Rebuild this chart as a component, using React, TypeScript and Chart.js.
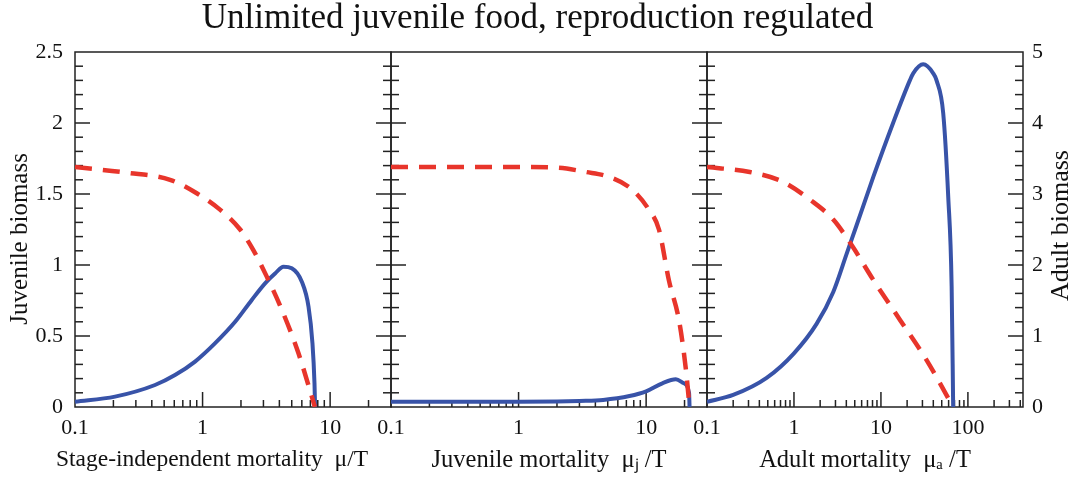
import React, { useEffect, useRef } from 'react';
import { Chart, registerables } from 'chart.js';

Chart.register(...registerables);

const FONT = "'Liberation Serif', 'Times New Roman', Times, serif";
const BLUE = '#3853a8';
const RED = '#e8352b';
const INK = '#111111';

const TITLE = 'Unlimited juvenile food, reproduction regulated';
const Y_LEFT_TITLE = 'Juvenile biomass   ';
const Y_RIGHT_TITLE = 'Adult biomass';
const X_TITLES = [
  'Stage-independent mortality  μ/T',
  'Juvenile mortality  μⱼ /T',
  'Adult mortality  μₐ /T',
];
const X_MIN = [0.1, 0.1, 0.1];
const X_MAX = [30, 30, 430];
const X_TICKS = [
  [0.1, 1, 10],
  [0.1, 1, 10],
  [0.1, 1, 10, 100],
];

// Panel 1: stage-independent mortality
const p1X_juv = [0.1, 0.206, 0.424, 0.608, 0.873, 1.25, 1.8, 2.43, 3.09, 3.7, 4.31, 5.0, 6.0, 6.77, 7.27, 7.54, 7.62];
const p1Y_juv = [0.037, 0.073, 0.155, 0.225, 0.32, 0.448, 0.6, 0.754, 0.871, 0.94, 0.988, 0.977, 0.882, 0.706, 0.448, 0.167, 0];
const p1X_adu = [0.1, 0.254, 0.556, 0.9, 1.37, 1.97, 2.5, 3.18, 4.18, 5.64, 7.6];
const p1Y_adu = [3.38, 3.3, 3.2, 3.01, 2.78, 2.5, 2.21, 1.84, 1.37, 0.76, 0];

// Panel 2: juvenile mortality
const p2X_juv = [0.1, 1, 2, 3, 4.6, 7.4, 10, 13.4, 17.1, 19.8, 21.7, 21.9];
const p2Y_juv = [0.037, 0.037, 0.039, 0.043, 0.05, 0.077, 0.11, 0.167, 0.195, 0.167, 0.1, 0];
const p2X_adu = [0.1, 1, 2, 3.38, 5.14, 7.8, 10.5, 12.6, 15.1, 18.1, 20.4, 21.9];
const p2Y_adu = [3.38, 3.38, 3.37, 3.31, 3.24, 3.06, 2.78, 2.5, 1.78, 1.22, 0.56, 0];

// Panel 3: adult mortality
const p3X_juv = [0.1, 0.2, 0.485, 1, 1.82, 2.83, 4.04, 5.25, 8.17, 13.8, 21.5, 23.5, 30.6, 39.9, 43.6, 52, 59.4, 65, 67.7];
const p3Y_juv = [0.037, 0.085, 0.205, 0.378, 0.585, 0.81, 1.08, 1.28, 1.62, 2.0, 2.3, 2.35, 2.413, 2.35, 2.3, 2.07, 1.48, 0.85, 0];
const p3X_adu = [0.1, 0.31, 0.75, 1.53, 2.83, 4.6, 8.17, 16.5, 33.5, 67.7];
const p3Y_adu = [3.38, 3.31, 3.17, 2.92, 2.64, 2.28, 1.79, 1.23, 0.66, 0];

const pts = (xs: number[], ys: number[]) => xs.map((x, i) => ({ x, y: ys[i] }));

const PANEL_IDS = ['x1', 'x2', 'x3'];

const framePlugin = {
  id: 'panelFrames',
  beforeDatasetsDraw(chart: any) {
    const { ctx, chartArea } = chart;
    const yL = chart.scales.y;
    const T = chartArea.top;
    const B = chartArea.bottom;
    const seg = (x1: number, y1: number, x2: number, y2: number) => {
      ctx.beginPath();
      ctx.moveTo(x1, y1);
      ctx.lineTo(x2, y2);
      ctx.stroke();
    };
    ctx.save();
    ctx.strokeStyle = '#222222';
    ctx.lineWidth = 1.5;
    PANEL_IDS.forEach((id) => {
      const s = chart.scales[id];
      const L = s.left;
      const R = s.right;
      ctx.strokeRect(L, T, R - L, B - T);
      for (let k = 1; k < 25; k++) {
        const py = yL.getPixelForValue(k / 10);
        const len = k % 5 === 0 ? 15 : 8;
        seg(L, py, L + len, py);
        seg(R, py, R - len, py);
      }
      for (let e = -1; e <= 3; e++) {
        for (let m = 1; m <= 9; m++) {
          const v = m * Math.pow(10, e);
          if (v <= s.min * 1.001 || v >= s.max * 0.999) continue;
          const px = s.getPixelForValue(v);
          const len = m === 1 ? 15 : 7;
          seg(px, B, px, B - len);
        }
      }
    });
    ctx.restore();
  },
  afterDraw(chart: any) {
    const { ctx, chartArea } = chart;
    const s = chart.scales.y2;
    ctx.save();
    ctx.translate(s.right - 14, (chartArea.top + chartArea.bottom) / 2 - 4);
    ctx.rotate(-Math.PI / 2);
    ctx.font = `26px ${FONT}`;
    ctx.fillStyle = INK;
    ctx.textAlign = 'center';
    ctx.textBaseline = 'middle';
    ctx.fillText(Y_RIGHT_TITLE, 0, 0);
    ctx.restore();

    // first panel's axis title sits a little left of the panel centre
    const x1 = chart.scales.x1;
    ctx.save();
    ctx.font = `23.5px ${FONT}`;
    ctx.fillStyle = INK;
    ctx.textAlign = 'center';
    ctx.textBaseline = 'middle';
    ctx.fillText(X_TITLES[0], (x1.left + x1.right) / 2 - 21, x1.bottom - 14.7 - 6);
    ctx.restore();
  },
};

function xScale(i: number) {
  return {
    type: 'logarithmic',
    position: 'bottom',
    stack: 'panels',
    stackWeight: 1,
    min: X_MIN[i],
    max: X_MAX[i],
    grid: { display: false, drawTicks: false },
    border: { display: false },
    afterBuildTicks(s: any) {
      s.ticks = X_TICKS[i].map((v) => ({ value: v }));
    },
    ticks: {
      autoSkip: false,
      maxRotation: 0,
      minRotation: 0,
      padding: 8,
      color: INK,
      font: { family: FONT, size: 22 },
      callback: (v: any) => String(v),
    },
    title: {
      display: i !== 0,
      text: X_TITLES[i],
      color: INK,
      font: { family: FONT, size: 24.5 },
      padding: { top: 0, bottom: 6 },
    },
    afterFit(s: any) {
      s.height = 74;
    },
  };
}

function lineSet(data: any[], xId: string, yId: string, color: string, dashed: boolean) {
  return {
    type: 'line',
    data,
    xAxisID: xId,
    yAxisID: yId,
    borderColor: color,
    backgroundColor: color,
    borderWidth: dashed ? 4.5 : 4,
    borderDash: dashed ? [17, 11] : [],
    pointRadius: 0,
    fill: false,
    cubicInterpolationMode: 'monotone',
    order: dashed ? 0 : 1,
  };
}

export default function App() {
  const ref = useRef<HTMLCanvasElement | null>(null);

  useEffect(() => {
    if (!ref.current) return;
    const chart = new Chart(ref.current, {
      type: 'line',
      data: {
        datasets: [
          lineSet(pts(p1X_adu, p1Y_adu), 'x1', 'y2', RED, true),
          lineSet(pts(p2X_adu, p2Y_adu), 'x2', 'y2', RED, true),
          lineSet(pts(p3X_adu, p3Y_adu), 'x3', 'y2', RED, true),
          lineSet(pts(p1X_juv, p1Y_juv), 'x1', 'y', BLUE, false),
          lineSet(pts(p2X_juv, p2Y_juv), 'x2', 'y', BLUE, false),
          lineSet(pts(p3X_juv, p3Y_juv), 'x3', 'y', BLUE, false),
        ] as any,
      },
      options: {
        responsive: false,
        animation: false,
        layout: { padding: 0 },
        plugins: {
          legend: { display: false },
          tooltip: { enabled: false },
          title: {
            display: true,
            text: TITLE,
            color: INK,
            font: { family: FONT, size: 35, weight: 'normal', lineHeight: 1.0 },
            padding: { top: 1, bottom: 16 },
          },
        },
        scales: {
          x1: xScale(0),
          x2: xScale(1),
          x3: xScale(2),
          y: {
            type: 'linear',
            position: 'left',
            min: 0,
            max: 2.5,
            grid: { display: false, drawTicks: false },
            border: { display: false },
            ticks: {
              stepSize: 0.5,
              padding: 12,
              color: INK,
              font: { family: FONT, size: 22 },
              callback: (v: any) => String(v),
            },
            title: {
              display: true,
              text: Y_LEFT_TITLE,
              color: INK,
              font: { family: FONT, size: 25 },
              padding: { top: 5, bottom: 0 },
            },
            afterFit(s: any) {
              s.width = 75;
            },
          },
          y2: {
            type: 'linear',
            position: 'right',
            min: 0,
            max: 5,
            grid: { display: false, drawTicks: false },
            border: { display: false },
            ticks: {
              stepSize: 1,
              padding: 9,
              color: INK,
              font: { family: FONT, size: 22 },
              callback: (v: any) => String(v),
            },
            title: { display: false, text: Y_RIGHT_TITLE },
            afterFit(s: any) {
              s.width = 52;
            },
          },
        } as any,
      },
      plugins: [framePlugin],
    } as any);
    return () => chart.destroy();
  }, []);

  return (
    <div style={{ position: 'absolute', left: 0, top: 0, width: 1075, height: 481, background: '#fff' }}>
      <canvas ref={ref} width={1075} height={481} style={{ display: 'block' }} />
    </div>
  );
}
